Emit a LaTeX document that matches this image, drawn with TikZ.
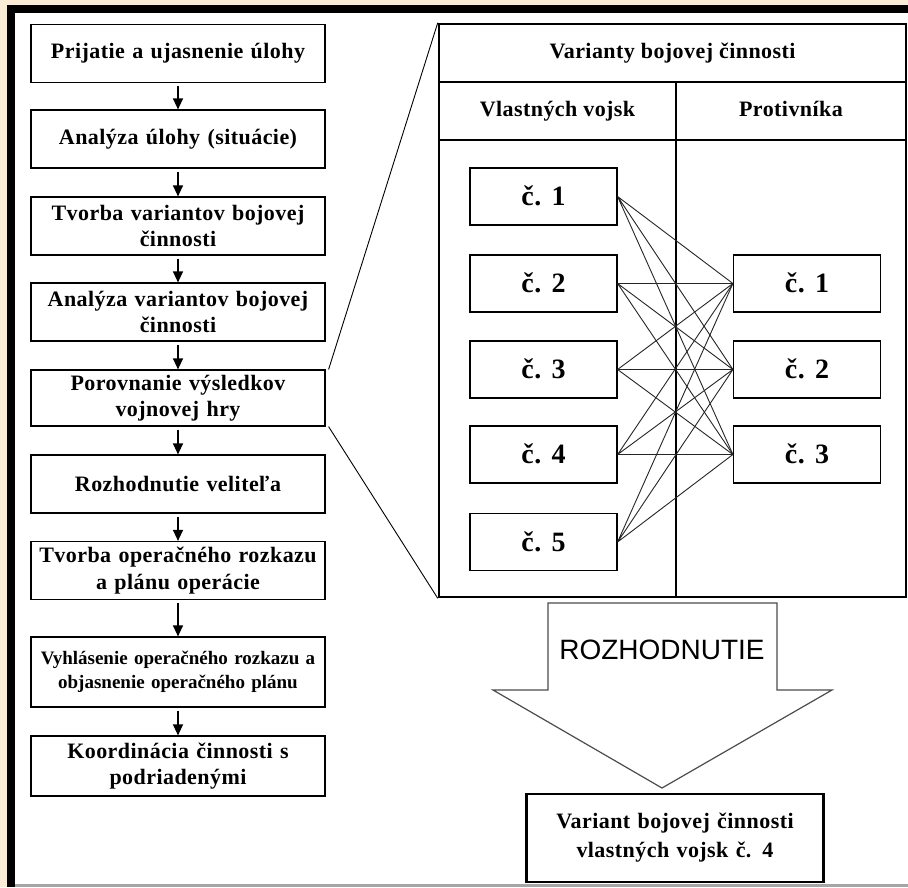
\documentclass[tikz,border=0pt]{standalone}
\usepackage{fontspec}
\setmainfont{Liberation Serif}[LetterSpace=2]
\newfontfamily\plainserif{Liberation Serif}
\newfontfamily\arialfont{Liberation Sans}
\usetikzlibrary{arrows.meta}
\definecolor{parchment}{RGB}{250,236,214}

\begin{document}
\begin{tikzpicture}[x=1pt, y=-1pt,
	stepbox/.style={draw, line width=1.2pt, minimum width=294pt, minimum height=58pt, text width=288pt, align=center, inner sep=1pt, font=\fontsize{22}{26.5}\selectfont\bfseries},
	variant/.style={draw, line width=1.2pt, minimum width=147pt, minimum height=57pt, inner sep=0pt, text height=19pt, text depth=1pt, font=\fontsize{28}{30}\selectfont\bfseries},
	header/.style={text height=15pt, text depth=5pt, font=\fontsize{22}{26}\selectfont\bfseries},
	flow/.style={-{Triangle[length=11pt,width=10pt]}, line width=1.3pt, shorten <=3pt},
	link/.style={line width=0.9pt, draw=black!85}]
	% page and frame
	\fill[parchment] (0,0) rectangle (908,887);
	\fill[black] (7,5) rectangle (908,887);
	\fill[white] (15,13) rectangle (908,884);
	\fill[gray!70] (15,884) rectangle (908,887);
	\useasboundingbox (0,0) rectangle (908,887);

	% left column: the planning steps
	\node[stepbox] (receive) at (178,53.5) {Prijatie a ujasnenie úlohy};
	\node[stepbox] (analysis) at (178,139) {Analýza úlohy (situácie)};
	\node[stepbox] (create) at (178,226) {Tvorba variantov bojovej\\činnosti};
	\node[stepbox] (analyse) at (178,312) {Analýza variantov bojovej\\činnosti};
	\node[stepbox, minimum height=56pt] (compare) at (178,398) {Porovnanie výsledkov\\vojnovej hry};
	\node[stepbox] (decide) at (178,484) {Rozhodnutie veliteľa};
	\node[stepbox] (order) at (178,570.5) {Tvorba operačného rozkazu\\a plánu operácie};
	\node[stepbox, minimum height=70pt, font=\plainserif\fontsize{19}{24}\selectfont\bfseries] (announce) at (178,672) {Vyhlásenie operačného rozkazu a\\objasnenie operačného plánu};
	\node[stepbox, minimum height=60pt] (coord) at (178,766) {Koordinácia činnosti s\\podriadenými};

	\draw[flow] (receive) -- (analysis);
	\draw[flow] (analysis) -- (create);
	\draw[flow] (create) -- (analyse);
	\draw[flow] (analyse) -- (compare);
	\draw[flow] (compare) -- (decide);
	\draw[flow] (decide) -- (order);
	\draw[flow] (order) -- (announce);
	\draw[flow] (announce) -- (coord);

	% table of the variants
	\node[draw, line width=2.5pt, minimum width=467pt, minimum height=573pt, inner sep=0pt] (table) at (672.5,310.5) {};
	\draw[line width=1.2pt] (439,82) -- (906,82);
	\draw[line width=1.2pt] (439,140) -- (906,140);
	\draw[line width=1.2pt] (676,82) -- (676,597);
	\node[header] (title) at (672.5,53) {Varianty bojovej činnosti};
	\node[header] (ownhead) at (557.5,111) {Vlastných vojsk};
	\node[header] (enemyhead) at (791,111) {Protivníka};

	\node[variant] (own1) at (543.5,196.5) {č. 1};
	\node[variant] (own2) at (543.5,283.5) {č. 2};
	\node[variant] (own3) at (543.5,369.5) {č. 3};
	\node[variant] (own4) at (543.5,454.5) {č. 4};
	\node[variant] (own5) at (543.5,542) {č. 5};
	\node[variant] (enemy1) at (807,283.5) {č. 1};
	\node[variant] (enemy2) at (807,369.5) {č. 2};
	\node[variant] (enemy3) at (807,454.5) {č. 3};

	\draw[link] (own1.east) -- (enemy1.west) (own1.east) -- (enemy2.west) (own1.east) -- (enemy3.west);
	\draw[link] (own2.east) -- (enemy1.west) (own2.east) -- (enemy2.west) (own2.east) -- (enemy3.west);
	\draw[link] (own3.east) -- (enemy1.west) (own3.east) -- (enemy2.west) (own3.east) -- (enemy3.west);
	\draw[link] (own4.east) -- (enemy1.west) (own4.east) -- (enemy2.west) (own4.east) -- (enemy3.west);
	\draw[link] (own5.east) -- (enemy1.west) (own5.east) -- (enemy2.west) (own5.east) -- (enemy3.west);

	% zoom lines from the compared step to the table
	\draw[line width=0.9pt] ([xshift=3pt]compare.north east) -- (table.north west);
	\draw[line width=0.9pt] ([xshift=3pt]compare.south east) -- (table.south west);

	% the decision arrow and its outcome
	\draw[line width=1.2pt, draw=black!70, fill=white] (548,603) -- (777,603) -- (777,690) -- (832,690) -- (662,788) -- (493,690) -- (548,690) -- cycle;
	\node[font=\arialfont\fontsize{28}{30}\selectfont] (decision) at (662,650) {ROZHODNUTIE};
	\node[draw, line width=2.5pt, minimum width=294pt, minimum height=88pt, text width=290pt, align=center, font=\fontsize{22}{29}\selectfont\bfseries] (result) at (675,838) {Variant bojovej činnosti\\vlastných vojsk č. 4};
\end{tikzpicture}
\end{document}
